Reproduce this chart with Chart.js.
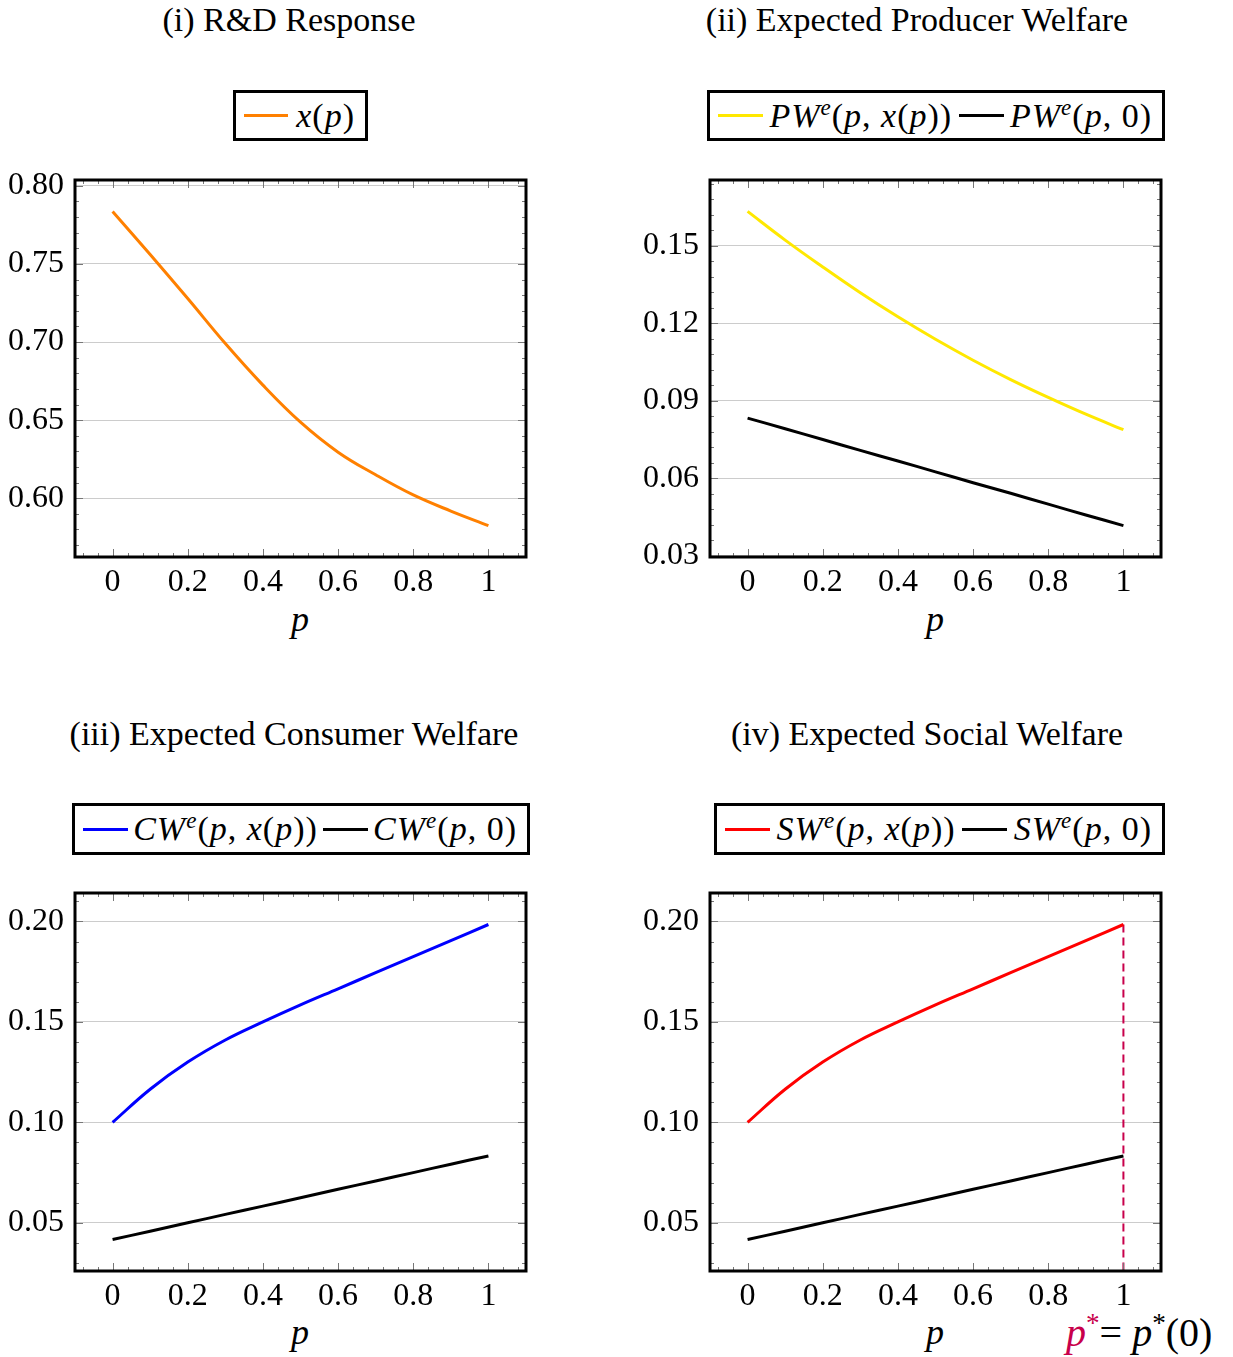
<!DOCTYPE html>
<html>
<head>
<meta charset="utf-8">
<script src="https://cdn.jsdelivr.net/npm/chart.js@4.4.1/dist/chart.umd.min.js"></script>
<style>
  body { margin: 0; background: #fff; color: #000; font-family: "Liberation Serif", serif; }
  #page { position: relative; width: 1233px; height: 1357px; overflow: hidden; }
  canvas { position: absolute; }
  .title { position: absolute; font-size: 34px; white-space: nowrap; transform: translate(-50%, -50%); }
  .legend { position: absolute; box-sizing: border-box; border: 3px solid #000; display: flex; align-items: center; justify-content: space-between; padding: 0 10px 0 8px; font-size: 34px; letter-spacing: 1px; white-space: nowrap; }
  .legend.single { justify-content: center; }
  .swatch { display: inline-block; width: 45px; height: 3px; }
  .xlabel { position: absolute; font-size: 36px; font-style: italic; transform: translate(-50%, -50%); }
  .pstar { position: absolute; font-size: 40px; white-space: nowrap; transform: translateY(-50%); }
  sup { font-size: 0.68em; vertical-align: 0.5em; line-height: 0; }
</style>
</head>
<body>
<div id="page">
  <div class="title" style="left:289px;top:20px">(i) R&amp;D Response</div>
  <div class="title" style="left:917px;top:20px">(ii) Expected Producer Welfare</div>
  <div class="title" style="left:294px;top:734px">(iii) Expected Consumer Welfare</div>
  <div class="title" style="left:927px;top:734px">(iv) Expected Social Welfare</div>

  <div class="legend single" style="left:233px;top:90px;width:135px;height:51px">
    <span class="swatch" style="background:#ff8000;margin-right:8px"></span><span><i>x</i>(<i>p</i>)</span>
  </div>
  <div class="legend" style="left:707px;top:90px;width:458px;height:51px">
    <span class="swatch" style="background:#ffe800"></span><span><i>PW</i><sup><i>e</i></sup>(<i>p</i>, <i>x</i>(<i>p</i>))</span>
    <span class="swatch" style="background:#000"></span><span><i>PW</i><sup><i>e</i></sup>(<i>p</i>, 0)</span>
  </div>
  <div class="legend" style="left:72px;top:803px;width:458px;height:52px">
    <span class="swatch" style="background:#0000ff"></span><span><i>CW</i><sup><i>e</i></sup>(<i>p</i>, <i>x</i>(<i>p</i>))</span>
    <span class="swatch" style="background:#000"></span><span><i>CW</i><sup><i>e</i></sup>(<i>p</i>, 0)</span>
  </div>
  <div class="legend" style="left:714px;top:803px;width:451px;height:52px">
    <span class="swatch" style="background:#ff0000"></span><span><i>SW</i><sup><i>e</i></sup>(<i>p</i>, <i>x</i>(<i>p</i>))</span>
    <span class="swatch" style="background:#000"></span><span><i>SW</i><sup><i>e</i></sup>(<i>p</i>, 0)</span>
  </div>

  <div class="xlabel" style="left:300px;top:619px">p</div>
  <div class="xlabel" style="left:935px;top:619px">p</div>
  <div class="xlabel" style="left:300px;top:1332px">p</div>
  <div class="xlabel" style="left:935px;top:1332px">p</div>
  <div class="pstar" style="left:1066px;top:1332px"><i style="color:#c8004b">p</i><sup style="color:#c8004b">*</sup>= <i>p</i><sup>*</sup>(0)</div>

  <canvas id="c1" width="616" height="460" style="left:0px;top:160px"></canvas>
  <canvas id="c2" width="617" height="460" style="left:616px;top:160px"></canvas>
  <canvas id="c3" width="616" height="460" style="left:0px;top:873px"></canvas>
  <canvas id="c4" width="617" height="460" style="left:616px;top:873px"></canvas>
</div>

<script>
// data
const pValues = [0, 0.1, 0.2, 0.3, 0.4, 0.5, 0.6, 0.7, 0.8, 0.9, 1];
const rdResponse = [0.7836, 0.7560, 0.7278, 0.6990, 0.6724, 0.6487, 0.6295, 0.6150, 0.6021, 0.5918, 0.5825];
const pwWithRD = [0.1633, 0.1522, 0.1418, 0.1318, 0.1225, 0.1138, 0.1057, 0.0982, 0.0913, 0.0848, 0.0788];
const pwNoRD = [0.0833, 0.0792, 0.0750, 0.0708, 0.0667, 0.0625, 0.0583, 0.0542, 0.0500, 0.0458, 0.0417];
const cwWithRD = [0.1000, 0.1165, 0.1300, 0.1410, 0.1500, 0.1585, 0.1665, 0.1745, 0.1825, 0.1905, 0.1985];
const cwNoRD = [0.0417, 0.0458, 0.0500, 0.0542, 0.0583, 0.0625, 0.0667, 0.0708, 0.0750, 0.0792, 0.0833];
const swWithRD = [0.1000, 0.1165, 0.1300, 0.1410, 0.1500, 0.1585, 0.1665, 0.1745, 0.1825, 0.1905, 0.1985];
const swNoRD = [0.0417, 0.0458, 0.0500, 0.0542, 0.0583, 0.0625, 0.0667, 0.0708, 0.0750, 0.0792, 0.0833];
const pStar = 1;

const xTicks = [0, 0.2, 0.4, 0.6, 0.8, 1];
const xTickLabels = ['0', '0.2', '0.4', '0.6', '0.8', '1'];
const yTicksRD = [0.60, 0.65, 0.70, 0.75, 0.80];
const yTicksPW = [0.03, 0.06, 0.09, 0.12, 0.15];
const yTicksCW = [0.05, 0.10, 0.15, 0.20];
const yTicksSW = [0.05, 0.10, 0.15, 0.20];

const FONT = '"Liberation Serif", serif';

// frame + inward ticks on all four sides, pgfplots style
const frameTicks = {
  id: 'frameTicks',
  afterDraw(chart, args, opts) {
    const { ctx, chartArea: a, scales: { x, y } } = chart;
    const steps = (s, step) => {
      const out = [];
      for (let k = Math.ceil(s.min / step - 1e-9); k * step <= s.max + 1e-9; k++) out.push(k * step);
      return out;
    };
    ctx.save();
    ctx.lineWidth = 1;
    ctx.strokeStyle = '#777';
    const xMark = (v, len) => {
      const px = Math.round(x.getPixelForValue(v)) + 0.5;
      ctx.beginPath();
      ctx.moveTo(px, a.bottom); ctx.lineTo(px, a.bottom - len);
      ctx.moveTo(px, a.top); ctx.lineTo(px, a.top + len);
      ctx.stroke();
    };
    const yMark = (v, len) => {
      const py = Math.round(y.getPixelForValue(v)) + 0.5;
      ctx.beginPath();
      ctx.moveTo(a.left, py); ctx.lineTo(a.left + len, py);
      ctx.moveTo(a.right, py); ctx.lineTo(a.right - len, py);
      ctx.stroke();
    };
    steps(x, opts.xMinor).forEach(v => xMark(v, 4));
    steps(y, opts.yMinor).forEach(v => yMark(v, 4));
    x.ticks.forEach(t => xMark(t.value, 8));
    y.ticks.forEach(t => yMark(t.value, 8));
    ctx.lineWidth = 3;
    ctx.strokeStyle = '#000';
    ctx.strokeRect(a.left, a.top, a.width, a.height);
    ctx.restore();
  }
};

const boxes = {
  c1: { l: 75, t: 180, r: 526, b: 557 },
  c2: { l: 710, t: 180, r: 1161, b: 557 },
  c3: { l: 75, t: 893, r: 526, b: 1271 },
  c4: { l: 710, t: 893, r: 1161, b: 1271 }
};

const pts = vals => pValues.map((p, i) => ({ x: p, y: vals[i] }));

function makeChart(id, series, yTicks, yMinor, extra) {
  const canvas = document.getElementById(id);
  const cl = parseFloat(canvas.style.left), ct = parseFloat(canvas.style.top);
  const box = boxes[id];
  const yWidth = box.l - cl;
  const padTop = box.t - ct;
  const padRight = cl + canvas.width - box.r;
  const xHeight = ct + canvas.height - box.b;

  // pgfplots style 10% enlargement of the data range
  const all = series.flatMap(s => s.values);
  const lo = Math.min(...all), hi = Math.max(...all);
  const yMin = lo - 0.1 * (hi - lo), yMax = hi + 0.1 * (hi - lo);

  const datasets = series.map(s => ({
    data: pts(s.values),
    borderColor: s.color,
    borderWidth: 3,
    pointRadius: 0,
    tension: 0.4,
    fill: false
  }));
  if (extra) datasets.push(extra(yMin));

  return new Chart(canvas, {
    type: 'line',
    data: { datasets },
    options: {
      responsive: false,
      animation: false,
      layout: { padding: { top: padTop, right: padRight, left: 0, bottom: 0 } },
      plugins: {
        legend: { display: false },
        tooltip: { enabled: false },
        frameTicks: { xMinor: 0.04, yMinor }
      },
      scales: {
        x: {
          type: 'linear', min: -0.1, max: 1.1,
          afterBuildTicks: s => { s.ticks = xTicks.map(v => ({ value: v })); },
          afterFit: s => { s.height = xHeight; s.paddingLeft = 0; s.paddingRight = 0; },
          grid: { display: false },
          border: { display: false },
          ticks: {
            color: '#000', padding: -2, maxRotation: 0,
            font: { family: FONT, size: 32 },
            callback: (v, i) => xTickLabels[i]
          }
        },
        y: {
          type: 'linear', min: yMin, max: yMax,
          afterBuildTicks: s => { s.ticks = yTicks.map(v => ({ value: v })); },
          afterFit: s => { s.width = yWidth; s.paddingTop = 0; s.paddingBottom = 0; },
          grid: { color: '#cccccc', lineWidth: 1, drawTicks: false },
          border: { display: false },
          ticks: {
            color: '#000', padding: 11,
            font: { family: FONT, size: 32 },
            callback: v => v.toFixed(2)
          }
        }
      }
    },
    plugins: [frameTicks]
  });
}

makeChart('c1', [{ values: rdResponse, color: '#ff8000' }], yTicksRD, 0.01);
makeChart('c2', [{ values: pwWithRD, color: '#ffe800' }, { values: pwNoRD, color: '#000000' }], yTicksPW, 0.006);
makeChart('c3', [{ values: cwWithRD, color: '#0000ff' }, { values: cwNoRD, color: '#000000' }], yTicksCW, 0.01);
makeChart('c4', [{ values: swWithRD, color: '#ff0000' }, { values: swNoRD, color: '#000000' }], yTicksSW, 0.01,
  yMin => ({
    data: [{ x: pStar, y: swWithRD[pValues.indexOf(pStar)] }, { x: pStar, y: yMin }],
    borderColor: '#c8004b',
    borderWidth: 2,
    borderDash: [8, 5],
    pointRadius: 0,
    tension: 0,
    fill: false
  }));
</script>
</body>
</html>
